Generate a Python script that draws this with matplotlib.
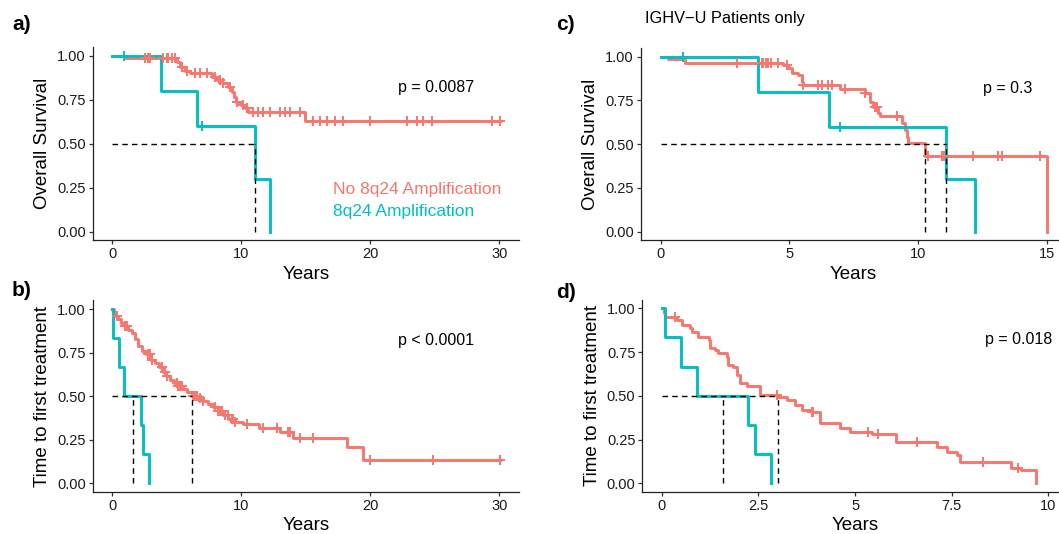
import matplotlib
matplotlib.use("Agg")
import matplotlib.pyplot as plt
import numpy as np

plt.rcParams['font.family'] = ['Liberation Sans', 'DejaVu Sans']

RED = '#F8766D'
TEAL = '#00BFC4'

# ---- data (years, survival after the step) ----
# overall survival, all patients (a)
os_no_t = [0, 0.98, 5.0, 5.25, 5.64, 6.0, 7.7, 8.1, 8.5, 9.0, 9.25, 9.4, 9.6, 10.0, 10.3, 10.5, 14.9]
os_no_s = [1.0, 0.985, 0.966, 0.937, 0.914, 0.90, 0.88, 0.862, 0.847, 0.824, 0.795, 0.767, 0.739, 0.72, 0.70, 0.682, 0.631]
os_no_cens = [2.54, 2.79, 2.92, 3.96, 4.21, 4.34, 4.6, 4.86, 5.38, 5.82, 6.41, 6.8, 7.31, 7.96, 8.35,
              8.6, 9.12, 9.64, 10.16, 10.42, 10.93, 11.32, 11.71, 12.22, 13.0, 13.39, 13.78, 14.55,
              15.58, 16.1, 16.62, 17.26, 17.91, 19.98, 22.82, 23.6, 24.11, 24.76, 29.41, 30.05]

# 8q24 amplified patients (same patients in a and c)
os_amp_t = [0, 3.78, 6.54, 11.07, 12.2]
os_amp_s = [1.0, 0.8, 0.6, 0.3, 0.0]
os_amp_cens = [0.87, 6.97]

# time to first treatment, all patients (b)
tt_no_t = [0, 0.1, 0.2, 0.45, 0.7, 0.95, 1.2, 1.5, 1.75, 2.0, 2.3, 2.6, 3.0, 3.3, 3.6, 3.9, 4.2, 4.5,
           4.8, 5.1, 5.5, 5.8, 6.18, 6.6, 7.0, 7.4, 7.8, 8.2, 8.6, 9.0, 9.5, 10.1, 11.4, 13.0, 14.0,
           18.2, 19.4]
tt_no_s = [1.0, 0.98, 0.96, 0.94, 0.92, 0.90, 0.88, 0.86, 0.83, 0.79, 0.76, 0.74, 0.71, 0.69, 0.665,
           0.64, 0.615, 0.59, 0.575, 0.56, 0.54, 0.525, 0.50, 0.49, 0.475, 0.455, 0.435, 0.415, 0.39,
           0.37, 0.35, 0.34, 0.316, 0.297, 0.258, 0.21, 0.134]
tt_no_cens = [0.34, 0.98, 1.11, 2.79, 2.92, 3.05, 3.83, 4.08, 4.21, 4.99, 5.12, 5.25, 5.38, 6.28, 6.41,
              6.54, 6.8, 7.06, 7.96, 8.22, 8.35, 8.48, 8.73, 8.99, 9.25, 9.38, 9.51, 10.42, 11.71,
              12.74, 13.65, 13.78, 14.55, 15.58, 19.98, 24.88, 30.05]

tt_amp_t = [0, 0.08, 0.5, 0.9, 2.24, 2.4, 2.82]
tt_amp_s = [1.0, 0.833, 0.667, 0.5, 0.333, 0.167, 0.0]
tt_amp_cens = []

# overall survival, IGHV-U only (c)
osu_no_t = [0, 0.3, 0.94, 4.76, 4.96, 5.09, 5.35, 5.48, 5.54, 6.97, 7.94, 8.13, 8.26, 8.46, 8.52,
            9.36, 9.49, 9.56, 9.62, 10.27, 15.0]
osu_no_s = [1.0, 0.985, 0.966, 0.953, 0.934, 0.905, 0.895, 0.857, 0.838, 0.813, 0.79, 0.743, 0.714,
            0.676, 0.661, 0.619, 0.581, 0.543, 0.509, 0.433, 0.0]
osu_no_cens = [2.95, 3.92, 3.99, 4.09, 4.18, 4.27, 4.57, 4.9, 5.54, 6.13, 6.26, 6.51, 6.64, 7.16,
               7.94, 8.33, 8.42, 9.17, 10.4, 10.92, 11.01, 12.15, 13.12, 13.25, 14.74]

# time to first treatment, IGHV-U only (d)
ttu_no_t = [0, 0.06, 0.085, 0.39, 0.52, 0.73, 0.77, 0.95, 1.21, 1.25, 1.37, 1.46, 1.68, 1.72, 1.85,
            1.94, 2.02, 2.2, 2.54, 3.02, 3.23, 3.45, 3.62, 3.88, 4.09, 4.61, 4.87, 5.45, 6.05, 7.13,
            7.37, 7.63, 7.71, 9.03, 9.3, 9.67]
ttu_no_s = [1.0, 0.971, 0.952, 0.933, 0.905, 0.886, 0.867, 0.838, 0.819, 0.771, 0.762, 0.743, 0.724,
            0.676, 0.667, 0.619, 0.571, 0.555, 0.505, 0.495, 0.476, 0.448, 0.419, 0.405, 0.343,
            0.314, 0.295, 0.28, 0.238, 0.21, 0.181, 0.162, 0.124, 0.086, 0.076, 0.0]
ttu_no_cens = [0.34, 2.97, 3.88, 3.92, 5.34, 5.6, 6.59, 8.32, 9.22]

medians_a = [11.07]
medians_b = [1.57, 6.18]
medians_c = [10.27, 11.09]
medians_d = [1.59, 3.02]

pvals = ['p = 0.0087', 'p < 0.0001', 'p = 0.3', 'p = 0.018']

W, H = 1059, 534
fig = plt.figure(figsize=(W / 100, H / 100), dpi=100)


def rect(l, r, t, b):
    return [l / W, 1 - b / H, (r - l) / W, (b - t) / H]


def km(ax, t, s, cens, color):
    t = list(t)
    s = list(s)
    end = max(t[-1], max(cens) if cens else 0)
    ax.step(t + [end], s + [s[-1]], where='post', color=color, lw=2.1, zorder=3)
    if cens:
        idx = np.searchsorted(t, cens, side='right') - 1
        ys = np.array(s)[idx]
        ax.plot(cens, ys, '+', color=color, ms=7.5, mew=1.4, zorder=4)


def medians(ax, meds):
    ax.plot([0, max(meds)], [0.5, 0.5], ls=(0, (4, 3)), color='black', lw=1.0, zorder=5)
    for m in meds:
        ax.plot([m, m], [0, 0.5], ls=(0, (4, 3)), color='black', lw=1.0, zorder=5)


def style(ax, xlim, xticks, xlabels, ylabel, ptext, px):
    ax.set_xlim(*xlim)
    ax.set_ylim(-0.05, 1.05)
    ax.set_xticks(xticks)
    ax.set_xticklabels(xlabels)
    ax.set_yticks([0, 0.25, 0.5, 0.75, 1.0])
    ax.set_yticklabels(['0.00', '0.25', '0.50', '0.75', '1.00'])
    for sp in ['top', 'right']:
        ax.spines[sp].set_visible(False)
    for sp in ['left', 'bottom']:
        ax.spines[sp].set_linewidth(0.9)
        ax.spines[sp].set_color('#222222')
    ax.tick_params(length=3, width=0.9, color='#333333', labelsize=10.5, pad=2, labelcolor='#1a1a1a')
    ax.set_xlabel('Years', fontsize=13.5, labelpad=3)
    ax.set_ylabel(ylabel, fontsize=13.5, labelpad=4)
    ax.text(px, 0.79, ptext, transform=ax.transAxes, fontsize=11.5, va='center', ha='left')


ax_a = fig.add_axes(rect(92.7, 519.3, 46.9, 240.5))
km(ax_a, os_no_t, os_no_s, os_no_cens, RED)
km(ax_a, os_amp_t, os_amp_s, os_amp_cens, TEAL)
medians(ax_a, medians_a)
style(ax_a, (-1.52, 31.55), [0, 10, 20, 30], ['0', '10', '20', '30'], 'Overall Survival', pvals[0], 0.716)
ax_a.text(0.563, 0.261, 'No 8q24 Amplification', color=RED, transform=ax_a.transAxes,
          fontsize=12.5, va='center', ha='left')
ax_a.text(0.563, 0.152, '8q24 Amplification', color=TEAL, transform=ax_a.transAxes,
          fontsize=12.5, va='center', ha='left')

ax_b = fig.add_axes(rect(92.7, 519.3, 300.3, 492))
km(ax_b, tt_no_t, tt_no_s, tt_no_cens, RED)
km(ax_b, tt_amp_t, tt_amp_s, tt_amp_cens, TEAL)
medians(ax_b, medians_b)
style(ax_b, (-1.52, 31.55), [0, 10, 20, 30], ['0', '10', '20', '30'], 'Time to first treatment', pvals[1], 0.716)

ax_c = fig.add_axes(rect(640.6, 1066, 47.9, 240.5))
km(ax_c, osu_no_t, osu_no_s, osu_no_cens, RED)
km(ax_c, os_amp_t, os_amp_s, os_amp_cens, TEAL)
medians(ax_c, medians_c)
style(ax_c, (-0.78, 15.75), [0, 5, 10, 15], ['0', '5', '10', '15'], 'Overall Survival', pvals[2], 0.805)

ax_d = fig.add_axes(rect(642.4, 1067.7, 299.5, 492))
km(ax_d, ttu_no_t, ttu_no_s, ttu_no_cens, RED)
km(ax_d, tt_amp_t, tt_amp_s, tt_amp_cens, TEAL)
medians(ax_d, medians_d)
style(ax_d, (-0.5, 10.5), [0, 2.5, 5, 7.5, 10], ['0', '2.5', '5', '7.5', '10'],
      'Time to first treatment', pvals[3], 0.805)

# panel letters and title
for lab, x, y in [('a)', 12, 25), ('b)', 12, 291), ('c)', 556, 25), ('d)', 556, 292)]:
    fig.text(x / W, 1 - y / H, lab, fontsize=15, fontweight='bold', va='center', ha='left')
fig.text(645 / W, 1 - 18 / H, 'IGHV\u2212U Patients only', fontsize=11.8, va='center', ha='left')

fig.savefig('out.png', dpi=100)
